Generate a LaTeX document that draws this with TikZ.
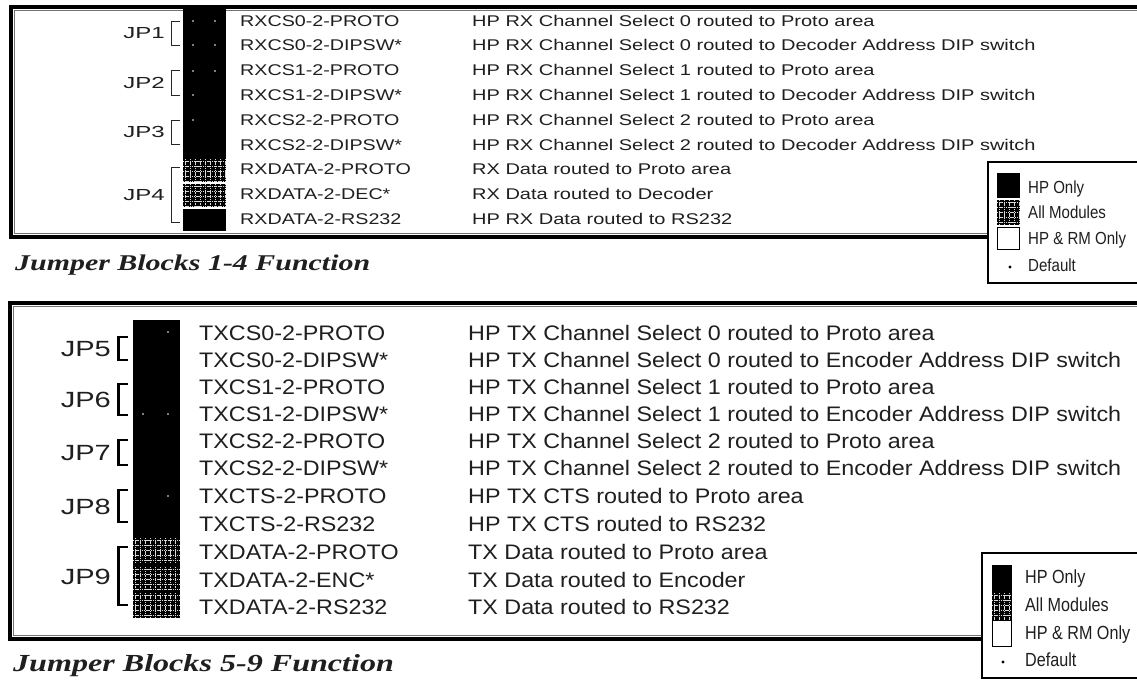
\documentclass[tikz,border=0pt]{standalone}
\usepackage{fontspec}
\usepackage{graphicx}
\setmainfont{Liberation Sans}
\newfontfamily\capserif{Liberation Serif}

% horizontally scaled text
\newcommand\sx[2]{\scalebox{#1}[1]{#2}}
\newcommand\rxfont{\fontsize{15.5}{16}\selectfont}
\newcommand\txfont{\fontsize{21}{22}\selectfont}
\newcommand\rxjpfont{\fontsize{16}{17}\selectfont}
\newcommand\txjpfont{\fontsize{22}{23}\selectfont}

% black field crossed by a fine dotted white grid (jumper fitted on all modules)
\newcommand\jgrid[4]{%
  \fill[black] (#1,#2) rectangle (#3,#4);
  \begin{scope}
    \clip (#1,#2) rectangle (#3,#4);
    \foreach \g in {0,...,12}{
      \draw[gridline] ({#1+2.5+5*\g},#2) -- ({#1+2.5+5*\g},#4);
      \draw[gridline] (#1,{#2+2.5+5*\g}) -- (#3,{#2+2.5+5*\g});
    }
  \end{scope}}

\tikzset{
  gridline/.style={white!85!black, line width=0.55pt, dash pattern=on 1.3pt off 0.9pt},
  lbl/.style={anchor=base west, inner sep=0pt, text=black!88},
  jp/.style={anchor=base east, inner sep=0pt, text=black!88},
  frameout/.style={draw=black, line width=3.2pt},
  framein/.style={draw=black!55, line width=0.8pt},
  thinbracket/.style={draw=black!85, line width=1pt},
  thickbracket/.style={draw=black, line width=2.4pt},
  pindot/.style={fill=white, draw=none},
  legendbox/.style={draw=black, line width=1.8pt, fill=white},
  swatch/.style={draw=black, line width=1.5pt},
}

\begin{document}
\begin{tikzpicture}[x=1pt, y=-1pt]
\useasboundingbox[fill=white] (0,0) rectangle (1137,681);

% ---------------- Jumper blocks 1-4 ----------------
\draw[frameout] (11,7) rectangle (1170,237);
\draw[framein] (14.2,10.2) rectangle (1170,233.8);

% header column
\fill[black] (183,8.5) rectangle (226,159);
\jgrid{183}{159}{226}{182}
\jgrid{183}{183.5}{226}{207}
\fill[black] (183,209) rectangle (226,231);
\foreach \px/\py in {193/21,215/21,193/45,215/45,193/71,215/71,193/95,193/120}
  \fill[pindot] (\px,\py) circle (0.9);

\foreach \nm/\ds [count=\k from 0] in {
  RXCS0-2-PROTO/HP RX Channel Select 0 routed to Proto area,
  RXCS0-2-DIPSW*/HP RX Channel Select 0 routed to Decoder Address DIP switch,
  RXCS1-2-PROTO/HP RX Channel Select 1 routed to Proto area,
  RXCS1-2-DIPSW*/HP RX Channel Select 1 routed to Decoder Address DIP switch,
  RXCS2-2-PROTO/HP RX Channel Select 2 routed to Proto area,
  RXCS2-2-DIPSW*/HP RX Channel Select 2 routed to Decoder Address DIP switch,
  RXDATA-2-PROTO/RX Data routed to Proto area,
  RXDATA-2-DEC*/RX Data routed to Decoder,
  RXDATA-2-RS232/HP RX Data routed to RS232}{
  \pgfmathsetmacro\yy{20.5+24.8*\k+5.6}
  \node[lbl] (rxname\k) at (240,\yy) {\sx{1.27}{\rxfont\nm}};
  \node[lbl] (rxdesc\k) at (472,\yy) {\sx{1.29}{\rxfont\ds}};
}

\foreach \lab/\ya/\yb [count=\k] in {JP1/21/45, JP2/70/95, JP3/120/144, JP4/167/222}{
  \draw[thinbracket] (180,\ya) -- (171.5,\ya) -- (171.5,\yb) -- (180,\yb);
  \node[jp] (jp\k) at (165,{(\ya+\yb)/2+5.8}) {\sx{1.5}{\rxjpfont\lab}};
}

\node[lbl] (cap1) at (15,270.5)
  {\sx{1.33}{\capserif\bfseries\itshape\fontsize{22.5}{24}\selectfont Jumper Blocks 1-4 Function}};

% legend
\draw[legendbox] (988,162) rectangle (1170,283);
\fill[black] (997,173) rectangle (1020,198);
\jgrid{997}{200}{1020}{225}
\draw[swatch, fill=white] (997.5,227.5) rectangle (1019.5,249.5);
\fill[black] (1010,267) circle (1.6);
\foreach \t/\ty [count=\k] in {HP Only/187, All Modules/212, HP \& RM Only/238, Default/265}
  \node[lbl] (lega\k) at (1028,\ty+6.3) {\sx{0.86}{\fontsize{17.5}{18}\selectfont\t}};

% ---------------- Jumper blocks 5-9 ----------------
\draw[frameout] (10,303) rectangle (1170,639);
\draw[framein] (13.2,306.2) rectangle (1170,635.8);

\fill[black] (133,320) rectangle (180,618);
\jgrid{133}{538}{180}{563}
\jgrid{133}{566.5}{180}{590}
\jgrid{133}{593}{180}{618}
\foreach \px/\py in {168/332,143/414,168/414,168/496}
  \fill[pindot] (\px,\py) circle (0.9);

\foreach \nm/\ds/\yc [count=\k from 0] in {
  TXCS0-2-PROTO/HP TX Channel Select 0 routed to Proto area/333,
  TXCS0-2-DIPSW*/HP TX Channel Select 0 routed to Encoder Address DIP switch/360,
  TXCS1-2-PROTO/HP TX Channel Select 1 routed to Proto area/387,
  TXCS1-2-DIPSW*/HP TX Channel Select 1 routed to Encoder Address DIP switch/414,
  TXCS2-2-PROTO/HP TX Channel Select 2 routed to Proto area/441,
  TXCS2-2-DIPSW*/HP TX Channel Select 2 routed to Encoder Address DIP switch/468,
  TXCTS-2-PROTO/HP TX CTS routed to Proto area/496,
  TXCTS-2-RS232/HP TX CTS routed to RS232/524,
  TXDATA-2-PROTO/TX Data routed to Proto area/552,
  TXDATA-2-ENC*/TX Data routed to Encoder/580,
  TXDATA-2-RS232/TX Data routed to RS232/607}{
  \node[lbl] (txname\k) at (199,\yc+7.5) {\sx{1.11}{\txfont\nm}};
  \node[lbl] (txdesc\k) at (468,\yc+7.5) {\sx{1.11}{\txfont\ds}};
}

\foreach \lab/\ya/\yb [count=\k from 5] in {JP5/337/360, JP6/384/415, JP7/440/465, JP8/490/522, JP9/547/605}{
  \draw[thickbracket] (128,\ya) -- (118.5,\ya) -- (118.5,\yb) -- (128,\yb);
  \node[jp] (jp\k) at (111,{(\ya+\yb)/2+8}) {\sx{1.32}{\txjpfont\lab}};
}

\node[lbl] (cap2) at (13,671.5)
  {\sx{1.31}{\capserif\bfseries\itshape\fontsize{24.5}{26}\selectfont Jumper Blocks 5-9 Function}};

% legend
\draw[legendbox] (982,553) rectangle (1170,678);
\fill[black] (992,565) rectangle (1012,593);
\jgrid{992}{593}{1012}{620}
\draw[swatch, fill=white] (992.5,620.5) rectangle (1011.5,646.5);
\fill[black] (1003,662) circle (1.6);
\foreach \t/\ty [count=\k] in {HP Only/577, All Modules/605, HP \& RM Only/633, Default/660}
  \node[lbl] (legb\k) at (1025,\ty+6.8) {\sx{0.85}{\fontsize{19}{20}\selectfont\t}};
\end{tikzpicture}
\end{document}
